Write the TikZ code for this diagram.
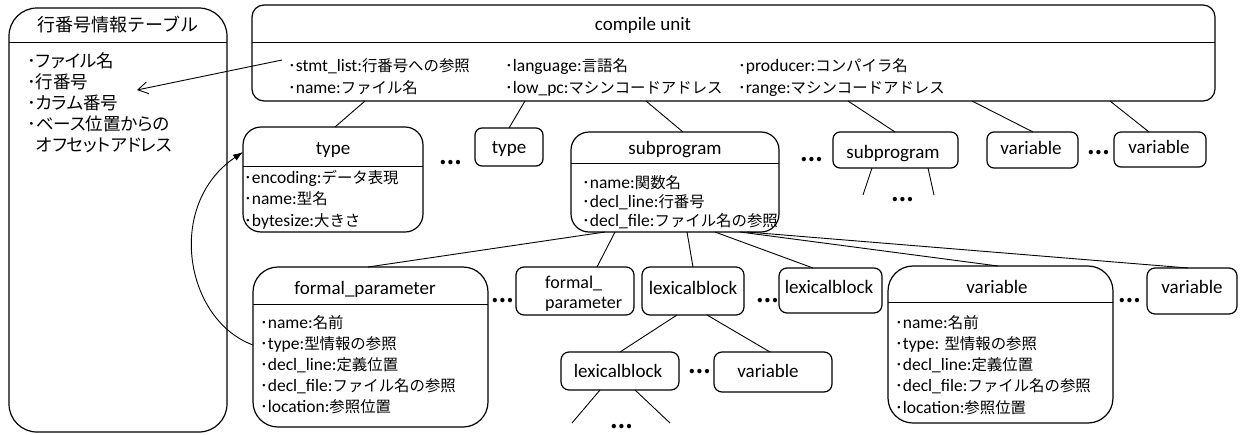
\documentclass[tikz,border=0pt]{standalone}
\usepackage{fontspec}
\setmainfont{Carlito}
\newfontfamily\jpf[Scale=0.88]{Noto Sans CJK JP}
\newfontfamily\jpt{Noto Sans CJK JP}
\newfontfamily\jpp[RawFeature=+palt]{Noto Sans CJK JP}
\usetikzlibrary{arrows.meta,calc}
\newcommand\J[1]{{\jpf #1}}
\newcommand\bul{{\jpf ･}}
\newcommand\RBox[6]{%
 \pgfmathsetmacro\bw{#4-#2}\pgfmathsetmacro\bh{#5-#3}%
 \pgfmathsetmacro\bx{(#2+#4)/2}\pgfmathsetmacro\by{(#3+#5)/2}%
 \node[box,rounded corners=#6pt,minimum width=\bw pt,minimum height=\bh pt] (#1) at (\bx,\by) {};}
\tikzset{
 box/.style={draw,line width=1.2pt,inner sep=0pt,outer sep=0pt},
 sepl/.style={line width=1pt},
 ttl/.style={font=\fontsize{19}{22}\selectfont,inner sep=0pt,anchor=base},
 itm/.style={font=\fontsize{17.5}{20}\selectfont,inner sep=0pt,anchor=base west},
 tblitm/.style={font=\jpp\fontsize{17.5}{20}\selectfont,inner sep=0pt,anchor=base west},
 dots/.style={font=\jpt\bfseries\fontsize{20}{20}\selectfont,inner sep=0pt},
 conn/.style={line width=0.9pt},
}
\begin{document}
\begin{tikzpicture}[x=1pt,y=-1pt]
\useasboundingbox (0,0) rectangle (1242,434);
% ---- line number table
\RBox{tbl}{9}{8}{227}{432}{28}
\draw[sepl] (tbl.west |- 0,42) -- (tbl.east |- 0,42);
\node[inner sep=0pt,anchor=base,font=\jpt\fontsize{18}{22}\selectfont] (tblT) at (118,31) {行番号情報テーブル};
\foreach \t [count=\i] in {･ファイル名,･行番号,･カラム番号,･ベース位置からの}
  \node[tblitm,name=tblI\i] at (27,46.5+\i*21) {\t};
\node[tblitm] (tblI5) at (36,151.5) {オフセットアドレス};
% ---- compile unit
\RBox{cu}{252}{5}{1215}{101}{12}
\draw[sepl] (cu.west |- 0,42) -- (cu.east |- 0,42);
\node[ttl] (cuT) at (643,30) {compile unit};
\node[itm] (cu1) at (288,71) {\bul stmt\_list:\J{行番号への参照}};
\node[itm] (cu2) at (288,93) {\bul name:\J{ファイル名}};
\node[itm] (cu3) at (505,71) {\bul language:\J{言語名}};
\node[itm] (cu4) at (505,93) {\bul low\_pc:\J{マシンコードアドレス}};
\node[itm] (cu5) at (738,71) {\bul producer:\J{コンパイラ名}};
\node[itm] (cu6) at (738,93) {\bul range:\J{マシンコードアドレス}};
% ---- second row
\RBox{type1}{243}{127}{423}{232}{18}
\draw[sepl] (type1.west |- 0,166) -- (type1.east |- 0,166);
\node[ttl] (type1T) at (333,154) {type};
\foreach \t [count=\i] in {\bul encoding:\J{データ表現},\bul name:\J{型名},\bul bytesize:\J{大きさ}}
  \node[itm,name=type1I\i] at (244,161.5+\i*21.5) {\t};
\node[dots] (d1) at (451,163) {…};
\RBox{type2}{475}{128}{543}{166}{7}
\node[ttl] (type2T) at (509,153) {type};
\RBox{sub1}{571}{132}{779}{232}{18}
\draw[sepl] (sub1.west |- 0,163) -- (sub1.east |- 0,163);
\node[ttl] (sub1T) at (675,154) {subprogram};
\foreach \t [count=\i] in {\bul name:\J{関数名},\bul decl\_line:\J{行番号},\bul decl\_file:\J{ファイル名の参照}}
  \node[itm,name=sub1I\i] at (582,169+\i*19) {\t};
\node[dots] (d2) at (812,160) {…};
\RBox{sub2}{833}{132}{958}{168}{7}
\node[ttl] (sub2T) at (893,158) {subprogram};
\RBox{var1}{987}{132}{1078}{168}{7}
\node[ttl] (var1T) at (1031,154) {variable};
\node[dots] (d3) at (1099,153) {…};
\RBox{var2}{1114}{132}{1206}{167}{7}
\node[ttl] (var2T) at (1159,153) {variable};
\coordinate (s2a) at (863,195);
\coordinate (s2b) at (934,195);
\node[dots] (d4) at (903,200) {…};
% ---- third row
\RBox{fp1}{253}{267}{488}{427}{25}
\draw[sepl] (fp1.west |- 0,304) -- (fp1.east |- 0,304);
\node[ttl] (fp1T) at (365,294) {formal\_parameter};
\foreach \t [count=\i] in {\bul name:\J{名前},\bul type:\J{型情報の参照},\bul decl\_line:\J{定義位置},\bul decl\_file:\J{ファイル名の参照},\bul location:\J{参照位置}}
  \node[itm,name=fp1I\i] at (260,307+\i*21) {\t};
\node[dots] (d5) at (503,301) {…};
\RBox{fp2}{516}{267}{634}{315}{8}
\node[itm,font=\fontsize{18}{20}\selectfont] (fp2T1) at (545,288) {formal\_};
\node[itm,font=\fontsize{18}{20}\selectfont] (fp2T2) at (545,308) {parameter};
\RBox{lb1}{642}{267}{744}{315}{8}
\node[ttl] (lb1T) at (693,294) {lexicalblock};
\node[dots] (d6) at (768,301) {…};
\RBox{lb2}{779}{268}{882}{313}{8}
\node[ttl] (lb2T) at (829,293) {lexicalblock};
\RBox{var3}{888}{266}{1113}{423}{25}
\draw[sepl] (var3.west |- 0,302) -- (var3.east |- 0,302);
\node[ttl] (var3T) at (997,293) {variable};
\foreach \t [count=\i] in {\bul name:\J{名前},\bul type: \J{型情報の参照},\bul decl\_line:\J{定義位置},\bul decl\_file:\J{ファイル名の参照},\bul location:\J{参照位置}}
  \node[itm,name=var3I\i] at (895,307+\i*21.2) {\t};
\node[dots] (d7) at (1130,301) {…};
\RBox{var4}{1147}{268}{1237}{314}{8}
\node[ttl] (var4T) at (1192,293) {variable};
% ---- fourth row
\RBox{lb3}{561}{352}{679}{390}{8}
\node[ttl] (lb3T) at (618,377) {lexicalblock};
\node[dots] (d8) at (700,372) {…};
\RBox{var5}{714}{352}{832}{392}{8}
\node[ttl] (var5T) at (768,377) {variable};
\coordinate (l3a) at (572,423);
\coordinate (l3b) at (670,423);
\node[dots] (d9) at (622,427) {…};
% ---- connectors
\draw[conn] (cu.south -| 365,0) -- (type1.north -| 335,0);
\draw[conn] (cu.south -| 525,0) -- (type2.north -| 509,0);
\draw[conn] (cu.south -| 646,0) -- (sub1.north -| 683,0);
\draw[conn] (cu.south -| 848,0) -- (sub2.north -| 895,0);
\draw[conn] (cu.south -| 972,0) -- (var1.north -| 1033,0);
\draw[conn] (cu.south -| 1110,0) -- (var2.north -| 1149,0);
\draw[conn] (sub2.south -| 872,0) -- (s2a);
\draw[conn] (sub2.south -| 928,0) -- (s2b);
\draw[conn] (sub1.south -| 605,0) -- (fp1.north -| 368,0);
\draw[conn] (sub1.south -| 615,0) -- (fp2.north -| 597,0);
\draw[conn] (sub1.south -| 687,0) -- (lb1.north -| 693,0);
\draw[conn] (sub1.south -| 715,0) -- (lb2.north -| 813,0);
\draw[conn] (sub1.south -| 740,0) -- (var3.north -| 998,0);
\draw[conn] (sub1.south -| 747,0) -- (var4.north -| 1188,0);
\draw[conn] (lb1.south -| 677,0) -- (lb3.north -| 620,0);
\draw[conn] (lb1.south -| 707,0) -- (var5.north -| 770,0);
\draw[conn] (lb3.south -| 600,0) -- (l3a);
\draw[conn] (lb3.south -| 635,0) -- (l3b);
% ---- arrows
\coordinate (arrS) at (282,60);
\coordinate (arrE) at (137,90);
\draw[conn,-{Straight Barb[length=10pt,width=12pt]}] (arrS) -- (arrE);
\draw[conn,-{Latex[length=10pt,width=7pt]}] (fp1.west |- 0,345) .. controls (185,320) and (165,205) .. (type1.west |- 0,152);
\end{tikzpicture}
\end{document}
